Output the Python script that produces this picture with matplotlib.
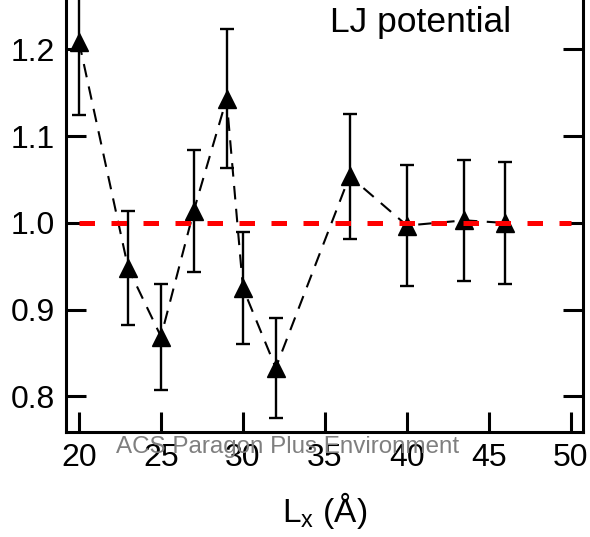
import matplotlib
matplotlib.use("Agg")
import matplotlib.pyplot as plt

plt.rcParams["font.family"] = ["Liberation Sans", "DejaVu Sans"]
plt.rcParams["mathtext.fontset"] = "custom"
plt.rcParams["mathtext.rm"] = "Liberation Sans"

# box length (Å) and normalised value with error
lx = [20, 23, 25, 27, 29, 30, 32, 36.5, 40, 43.5, 46]
ratio = [1.209, 0.948, 0.869, 1.014, 1.143, 0.925, 0.833, 1.054, 0.997, 1.003, 1.000]
err = [0.085, 0.066, 0.061, 0.070, 0.080, 0.064, 0.058, 0.072, 0.070, 0.070, 0.070]

ref_x = [20, 50]
ref_y = [1.0, 1.0]

xticks = [20, 25, 30, 35, 40, 45, 50]
yticks = [0.8, 0.9, 1.0, 1.1, 1.2]

fig = plt.figure(figsize=(5.9, 5.37), dpi=100)
ax = fig.add_axes([0.1119, 0.1955, 0.8761, 0.8045])

ax.plot(lx, ratio, color="black", lw=1.5, ls=(0, (6.5, 4.5)), zorder=2)
ax.errorbar(lx, ratio, yerr=err, fmt="none", ecolor="black", elinewidth=1.7,
            capsize=5.3, capthick=1.7, zorder=3)
ax.plot(lx, ratio, ls="none", marker="^", ms=13.5, color="black", zorder=4)
ax.plot(ref_x, ref_y, color="red", lw=3.6, ls=(0, (3.1, 3.3)), zorder=5)

ax.set_xlim(19.21, 50.73)
ax.set_ylim(0.759, 1.257)
ax.set_xticks(xticks)
ax.set_yticks(yticks)
ax.set_yticklabels([f"{v:.1f}" for v in yticks])

for side in ["left", "right", "bottom"]:
    ax.spines[side].set_linewidth(2.2)
ax.spines["top"].set_visible(False)
ax.tick_params(direction="in", length=14.5, width=2.2, labelsize=23,
               right=True, top=False, pad=8)

ax.set_xlabel("L$_{\\mathrm{x}}$ (Å)", fontsize=24, labelpad=12)
ax.text(0.685, 0.947, "LJ potential", transform=ax.transAxes, fontsize=25.5,
        ha="center", va="center")

fig.text(0.487, 0.168, "ACS Paragon Plus Environment", fontsize=17.4,
         color="#7f7f7f", ha="center", va="center", zorder=0)

fig.savefig("out.png", dpi=100)
